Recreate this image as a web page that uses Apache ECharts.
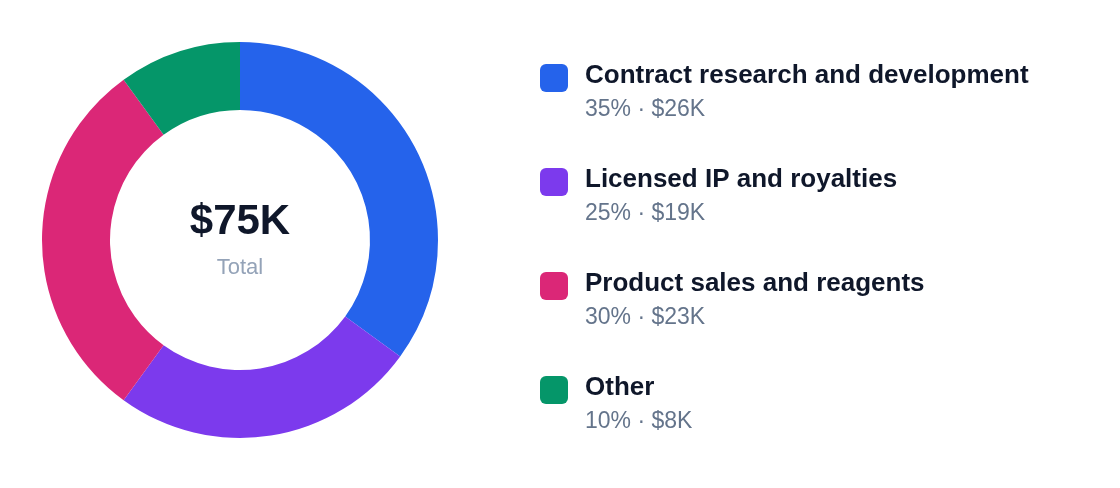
<!DOCTYPE html>
<html>
<head>
<meta charset="utf-8">
<script src="https://cdn.jsdelivr.net/npm/echarts@6/dist/echarts.min.js"></script>
<style>
html,body{margin:0;padding:0;background:#fff;}
#chart{width:1120px;height:488px;}
</style>
</head>
<body>
<div id="chart"></div>
<script>
const categories = ['Contract research and development', 'Licensed IP and royalties', 'Product sales and reagents', 'Other'];
const shares = [35, 25, 30, 10];
const amounts = ['$26K', '$19K', '$23K', '$8K'];
const colors = ['#2563eb', '#7c3aed', '#db2777', '#059669'];
const totalLabel = '$75K';
const totalCaption = 'Total';

const FONT = '"Liberation Sans", Arial, Helvetica, sans-serif';
const chart = echarts.init(document.getElementById('chart'), null, {renderer: 'canvas'});

const legendGraphics = [];
categories.forEach((name, i) => {
  const top = 64 + i * 104;
  legendGraphics.push({
    type: 'rect', left: 540, top: top,
    shape: {width: 28, height: 28, r: 6},
    style: {fill: colors[i]}
  });
  legendGraphics.push({
    type: 'text', x: 585, y: top + 12,
    style: {text: name, font: 'bold 26px ' + FONT, fill: '#0f172a', verticalAlign: 'middle', align: 'left'}
  });
  legendGraphics.push({
    type: 'text', x: 585, y: top + 45.6,
    style: {text: shares[i] + '% \u00b7 ' + amounts[i], font: '23px ' + FONT, fill: '#64748b', verticalAlign: 'middle', align: 'left'}
  });
});

chart.setOption({
  animation: false,
  color: colors,
  series: [{
    type: 'pie',
    center: [240, 240],
    radius: [130, 198],
    startAngle: 90,
    clockwise: true,
    label: {show: false},
    labelLine: {show: false},
    emphasis: {disabled: true},
    itemStyle: {borderWidth: 0},
    data: categories.map((c, i) => ({name: c, value: shares[i]}))
  }],
  graphic: [
    {type: 'text', x: 240, y: 222, style: {text: totalLabel, font: 'bold 42px ' + FONT, fill: '#0f172a', align: 'center', verticalAlign: 'middle'}},
    {type: 'text', x: 240, y: 268, style: {text: totalCaption, font: '22px ' + FONT, fill: '#94a3b8', align: 'center', verticalAlign: 'middle'}}
  ].concat(legendGraphics)
});
</script>
</body>
</html>
